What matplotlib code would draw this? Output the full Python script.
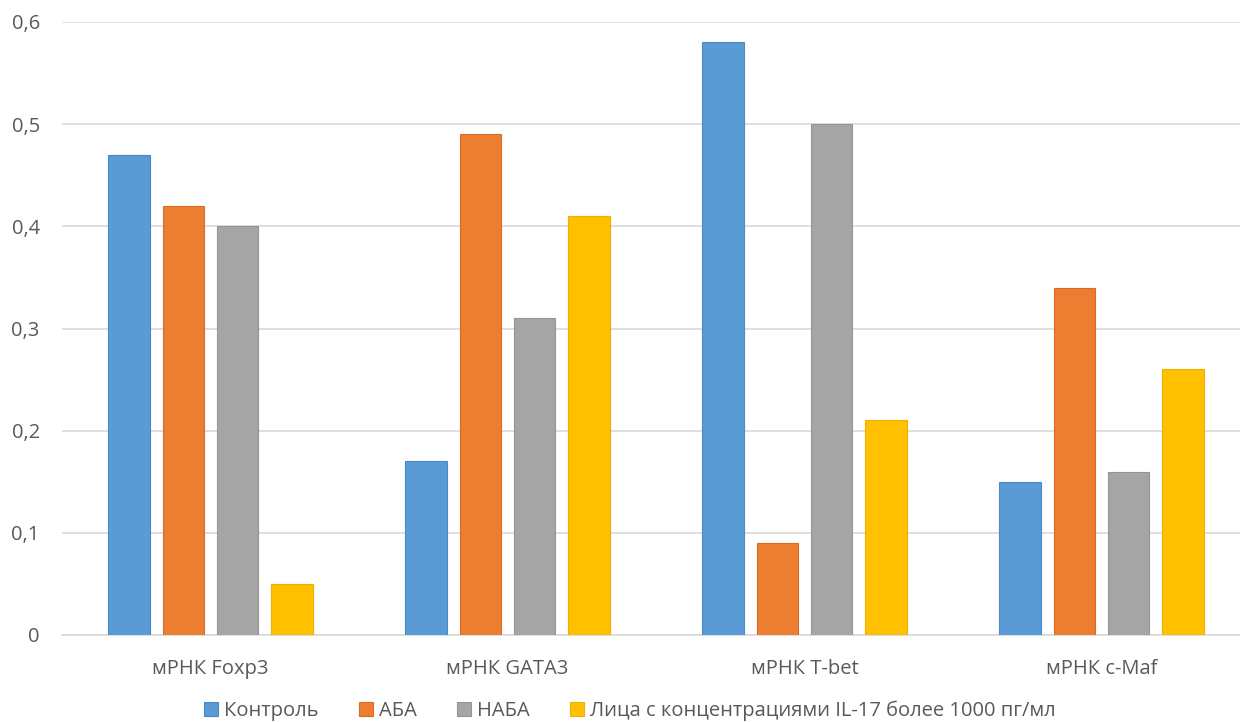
import matplotlib

matplotlib.use("Agg")
import matplotlib.pyplot as plt
import numpy as np
from matplotlib.ticker import FuncFormatter

# Expression levels per marker and group
categories = ["мРНК Foxp3", "мРНК GATA3", "мРНК T-bet", "мРНК c-Maf"]
series_names = ["Контроль", "АБА", "НАБА", "Лица с концентрациями IL-17 более 1000 пг/мл"]
control = [0.47, 0.17, 0.58, 0.15]
aba = [0.42, 0.49, 0.09, 0.34]
naba = [0.40, 0.31, 0.50, 0.16]
il17 = [0.05, 0.41, 0.21, 0.26]
y_ticks = [0.0, 0.1, 0.2, 0.3, 0.4, 0.5, 0.6]

colors = ["#5B9BD5", "#ED7D31", "#A5A5A5", "#FFC000"]
edges = ["#4A8AC4", "#D96C22", "#949494", "#EDB000"]
text_color = "#595959"
grid_color = "#D9D9D9"

plt.rcParams["font.family"] = ["Open Sans", "DejaVu Sans"]

fig = plt.figure(figsize=(12.4, 7.22), dpi=100)
ax = fig.add_axes([62 / 1240, 1 - 635 / 722, 1188 / 1240, 613 / 722])

x = np.arange(len(categories))
bar_w = 0.141
step = 0.182
for i, (vals, name) in enumerate(zip([control, aba, naba, il17], series_names)):
    offset = (i - 1.5) * step
    ax.bar(x + offset, vals, width=bar_w, color=colors[i], edgecolor=edges[i],
           linewidth=0.8, label=name, zorder=3)

ax.set_xlim(-0.5, len(categories) - 0.5)
ax.set_ylim(0, 0.6)
ax.set_yticks(y_ticks)
ax.yaxis.set_major_formatter(
    FuncFormatter(lambda v, _: "0" if v == 0 else f"{v:.1f}".replace(".", ","))
)
ax.set_xticks(x)
ax.set_xticklabels(categories)

ax.grid(axis="y", color=grid_color, linewidth=1.2, zorder=0)
for side in ["top", "right", "left"]:
    ax.spines[side].set_visible(False)
ax.spines["bottom"].set_color(grid_color)
ax.spines["bottom"].set_linewidth(1.2)
ax.tick_params(axis="both", length=0, colors=text_color, labelsize=14.5)
ax.tick_params(axis="y", pad=16)
ax.tick_params(axis="x", pad=17)

fig.legend(
    loc="center",
    bbox_to_anchor=(0.5 + 10 / 1240, 1 - 711 / 722),
    ncol=4,
    frameon=False,
    handlelength=0.7,
    handleheight=0.7,
    handletextpad=0.3,
    columnspacing=2.0,
    fontsize=14.5,
    labelcolor=text_color,
)

fig.savefig("out.png", dpi=100)
plt.close(fig)
